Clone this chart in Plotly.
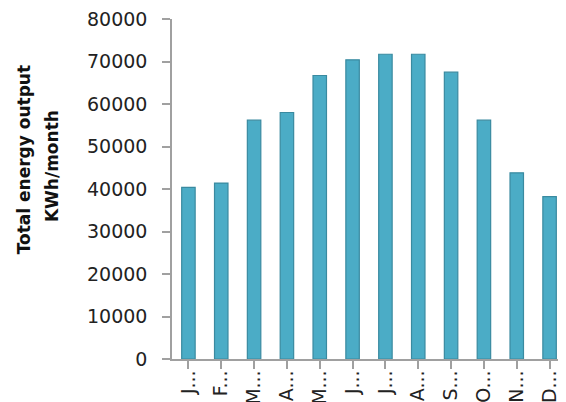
import plotly.graph_objects as go

months = ["J...", "F...", "M...", "A...", "M...", "J...", "J...", "A...", "S...", "O...", "N...", "D..."]
energy = [40400, 41400, 56200, 58000, 66700, 70400, 71700, 71700, 67500, 56200, 43800, 38200]
y_ticks = [0, 10000, 20000, 30000, 40000, 50000, 60000, 70000, 80000]

fig = go.Figure()
fig.add_trace(go.Bar(
    x=list(range(len(months))),
    y=energy,
    marker=dict(color="#4BACC6", line=dict(color="#3A8AA0", width=1.2)),
    width=0.41,
))

axis_font = dict(family="DejaVu Sans", size=19, color="#222222")
fig.update_layout(
    width=558, height=394,
    margin=dict(l=164, r=0, t=11, b=43),
    plot_bgcolor="white", paper_bgcolor="white",
    showlegend=False,
    xaxis=dict(
        tickmode="array", tickvals=list(range(len(months))), ticktext=months,
        tickangle=-90, range=[-0.5, 11.5],
        showline=True, linecolor="#A0A0A0", linewidth=1.5,
        ticks="outside", ticklen=8, tickcolor="#A0A0A0", tickwidth=1.5,
        tickson="boundaries", ticklabeloverflow="allow",
        showgrid=False, zeroline=False, automargin=False,
        tickfont=axis_font, ticklabelstandoff=-6,
    ),
    yaxis=dict(
        range=[0, 80000], tickvals=y_ticks, ticktext=[str(v) for v in y_ticks],
        showline=True, linecolor="#A0A0A0", linewidth=1.5,
        ticks="outside", ticklen=8, tickcolor="#A0A0A0", tickwidth=1.5,
        showgrid=False, zeroline=False, automargin=False,
        ticklabeloverflow="allow",
        tickfont=axis_font, ticklabelstandoff=11,
    ),
    annotations=[
        dict(text="<b>Total energy output</b>", xref="paper", yref="paper",
             x=-0.375, y=0.585, xanchor="center", yanchor="middle", showarrow=False,
             textangle=-90, font=dict(family="DejaVu Sans", size=17, color="#111111")),
        dict(text="<b>KWh/month</b>", xref="paper", yref="paper",
             x=-0.304, y=0.568, xanchor="center", yanchor="middle", showarrow=False,
             textangle=-90, font=dict(family="DejaVu Sans", size=17, color="#111111")),
    ],
)

fig.write_html("out.html")
